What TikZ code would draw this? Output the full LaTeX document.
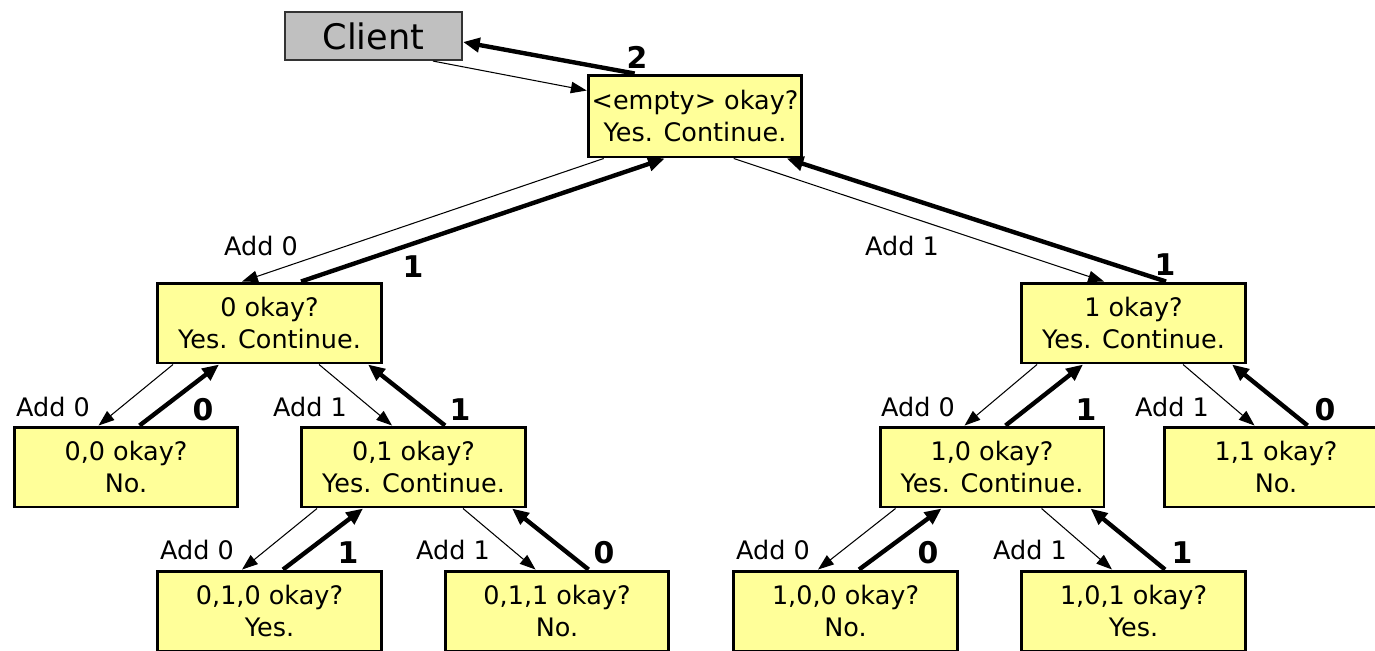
\documentclass[tikz,border=0pt]{standalone}
\usepackage{fontspec}
\setmainfont{DejaVu Sans}
\usetikzlibrary{arrows.meta,calc}
\definecolor{boxyellow}{HTML}{FFFF99}
\definecolor{clientgray}{HTML}{C0C0C0}

\begin{document}
\begin{tikzpicture}[x=0.02cm, y=-0.02cm,
    state/.style={draw, line width=1.7pt, fill=boxyellow, minimum width=4.48cm,
        minimum height=1.6cm, align=center, inner sep=2pt,
        font=\fontsize{14.5}{18}\selectfont},
    tryedge/.style={line width=0.6pt, -{Triangle[length=9pt,width=6.5pt]}},
    retedge/.style={line width=2.5pt, -{Triangle[length=9.5pt,width=8pt]}},
    addlbl/.style={font=\fontsize{14.5}{18}\selectfont},
    retlbl/.style={font=\bfseries\fontsize{17}{20}\selectfont}]
\clip (0,0) rectangle (1375,650);

% the client and the tree of partial solutions
\node[draw=black!80, line width=1.2pt, fill=clientgray, minimum width=3.54cm,
    minimum height=0.96cm, font=\fontsize{20}{24}\selectfont] (cl) at (373.5,36) {Client};
\node[state, minimum width=4.2cm, minimum height=1.64cm] (r) at (695,116) {<empty> okay?\\Yes. Continue.};
\node[state] (n0) at (269.5,323) {0 okay?\\Yes. Continue.};
\node[state] (n1) at (1133.5,323) {1 okay?\\Yes. Continue.};
\node[state] (n00) at (126,467) {0,0 okay?\\No.};
\node[state] (n01) at (413.5,467) {0,1 okay?\\Yes. Continue.};
\node[state] (n10) at (992,467) {1,0 okay?\\Yes. Continue.};
\node[state] (n11) at (1276,467) {1,1 okay?\\No.};
\node[state] (n010) at (269.5,611) {0,1,0 okay?\\Yes.};
\node[state] (n011) at (557,611) {0,1,1 okay?\\No.};
\node[state] (n100) at (845.5,611) {1,0,0 okay?\\No.};
\node[state] (n101) at (1133.5,611) {1,0,1 okay?\\Yes.};

% call from the client and the final answer
\draw[tryedge] ($(cl.south west)+(149,0)$) -- ($(r.north west)+(0,17)$);
\draw[retedge] ($(r.north west)+(48,0)$) -- ($(cl.east)+(0,6)$);

% root to its two children
\draw[tryedge] ($(r.south west)+(17,0)$) -- ($(n0.north west)+(86,0)$);
\draw[retedge] ($(n0.north west)+(145,0)$) -- ($(r.south west)+(78,0)$);
\draw[tryedge] ($(r.south west)+(147,0)$) -- ($(n1.north west)+(84,0)$);
\draw[retedge] ($(n1.north west)+(146,0)$) -- ($(r.south west)+(200,0)$);

% left-hand children (add 0)
\foreach \p/\c in {n0/n00, n1/n10, n01/n010, n10/n100} {
    \draw[tryedge] ($(\p.south west)+(17,0)$) -- ($(\c.north west)+(86,0)$);
    \draw[retedge] ($(\c.north west)+(127,0)$) -- ($(\p.south west)+(63,0)$);
}

% right-hand children (add 1)
\foreach \p/\c in {n0/n01, n1/n11, n01/n011, n10/n101} {
    \draw[tryedge] ($(\p.south west)+(163,0)$) -- ($(\c.north west)+(92,0)$);
    \draw[retedge] ($(\c.north west)+(145,0)$) -- ($(\p.south west)+(212,0)$);
}

% labels on the edges
\foreach \n/\x/\y/\t in {r0/261/246/0, r1/902/246/1, a0/53/407/0, a1/310/407/1,
    b0/918/407/0, b1/1172/407/1, c0/197/550/0, c1/453/550/1, d0/773/550/0, d1/1030/550/1} {
    \node[addlbl] (add\n) at (\x,\y) {Add \t};
}
\foreach \n/\x/\y/\t in {cl/637/57/2, r0/413/267/1, r1/1165/265/1, a0/203/410/0,
    a1/460/410/1, b0/1086/410/1, b1/1325/410/0, c0/348/553/1, c1/604/553/0,
    d0/928/553/0, d1/1182/553/1} {
    \node[retlbl] (ret\n) at (\x,\y) {\t};
}
\end{tikzpicture}
\end{document}
